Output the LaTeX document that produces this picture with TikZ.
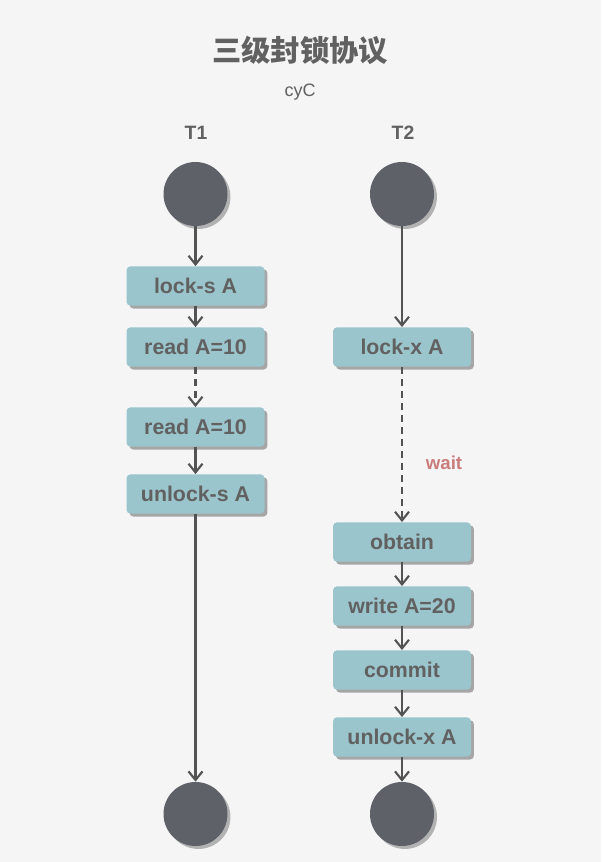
\documentclass[tikz,border=0pt]{standalone}
\usepackage{fontspec}
\setmainfont{Liberation Sans}
\newfontfamily\cjk{Noto Sans CJK SC}
\usetikzlibrary{arrows.meta,shadows}
\definecolor{bg}{HTML}{F5F5F5}
\definecolor{boxfill}{HTML}{9BC5CC}
\definecolor{txt}{HTML}{616161}
\definecolor{dot}{HTML}{5E6168}
\definecolor{lnk}{HTML}{535353}
\definecolor{waitc}{HTML}{C97C7A}
\tikzset{
  stepbox/.style={rectangle, rounded corners=3pt, fill=boxfill, minimum width=103.5pt, minimum height=29.5pt,
    inner sep=0pt, text=txt, font=\fontsize{16}{19}\selectfont\bfseries,
    drop shadow={shadow xshift=2.2pt, shadow yshift=-2.2pt, fill=black!35, opacity=1}},
  endpt/.style={circle, fill=dot, minimum size=48pt, inner sep=0pt,
    drop shadow={shadow xshift=2.2pt, shadow yshift=-2.2pt, fill=black!30, opacity=1}},
  lane/.style={text=txt, font=\fontsize{14.5}{17}\selectfont\bfseries},
  link/.style={draw=lnk, line width=1.6pt, -{Straight Barb[length=6.5pt,width=10.5pt,line width=1.6pt]}},
  waitlink/.style={link, dash pattern=on 5pt off 4pt},
}
\begin{document}
\begin{tikzpicture}[x=0.75pt, y=-0.75pt]
\fill[bg] (0,0) rectangle (601,862);
\useasboundingbox (0,0) rectangle (601,862);
\node[text=txt, font=\cjk\fontsize{22}{25}\selectfont\bfseries] (title) at (300,50) {三级封锁协议};
\node[text=txt, font=\fontsize{13.5}{16}\selectfont] (author) at (300,92) {cyC};
\node[lane] (t1) at (196,133) {T1};
\node[lane] (t2) at (403,133) {T2};
\node[endpt] (s1) at (195.5,194) {};
\node[endpt] (s2) at (402,194) {};
\node[stepbox] (a1) at (195.5,286) {lock-s A};
\node[stepbox] (a2) at (195.5,347) {read A=10};
\node[stepbox] (a3) at (195.5,427) {read A=10};
\node[stepbox] (a4) at (195.5,494) {unlock-s A};
\node[endpt] (e1) at (195.5,814) {};
\node[stepbox] (b1) at (402,347) {lock-x A};
\node[stepbox] (b2) at (402,542) {obtain};
\node[stepbox] (b3) at (402,606) {write A=20};
\node[stepbox] (b4) at (402,670) {commit};
\node[stepbox] (b5) at (402,737) {unlock-x A};
\node[endpt] (e2) at (402,814) {};
\node[text=waitc, font=\fontsize{14}{16}\selectfont\bfseries] (wait) at (444,463) {wait};
\draw[link] (s1) -- (a1);
\draw[link] (a1) -- (a2);
\draw[waitlink] (a2) -- (a3);
\draw[link] (a3) -- (a4);
\draw[link] (a4) -- (e1);
\draw[link] (s2) -- (b1);
\draw[waitlink] (b1) -- (b2);
\draw[link] (b2) -- (b3);
\draw[link] (b3) -- (b4);
\draw[link] (b4) -- (b5);
\draw[link] (b5) -- (e2);
\end{tikzpicture}
\end{document}
